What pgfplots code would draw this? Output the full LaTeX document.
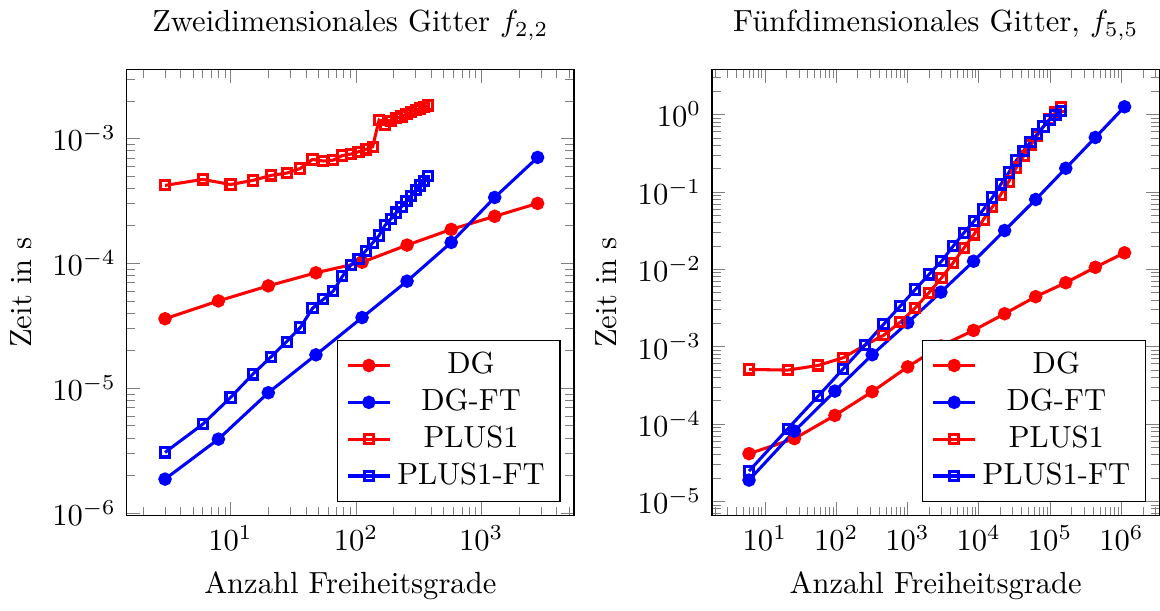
\documentclass[border=0pt]{standalone}
\usepackage{pgfplots}
\pgfplotsset{compat=1.18}
\tikzset{
  sdg/.style={red, line width=1pt, mark=*, mark size=1.7pt, mark options={solid}},
  sdgft/.style={blue, line width=1pt, mark=*, mark size=1.7pt, mark options={solid}},
  spl/.style={red, line width=1pt, mark=square, mark size=1.5pt, mark options={solid}},
  splft/.style={blue, line width=1pt, mark=square, mark size=1.5pt, mark options={solid}},
}
\pgfplotsset{
  every axis/.append style={
    legend image code/.code={\draw[mark repeat=2,mark phase=2] plot coordinates {(0cm,0cm)(0.24cm,0cm)(0.48cm,0cm)};},
    legend style={at={(0.97,0.03)}, anchor=south east, draw=black, fill=white, row sep=-0.5pt},
    legend cell align=center,
  },
}
\begin{document}
\begin{tikzpicture}
\begin{axis}[name=left,
  xmode=log, ymode=log, scale only axis,
  width=146.4pt, height=145.8pt,
  xlabel={Anzahl Freiheitsgrade}, ylabel={Zeit in s},
  xmin=1.48, xmax=5500, ymin=9.6e-7, ymax=3.56e-3,
  title={Zweidimensionales Gitter $f_{2,2}$}]
\addplot[sdg] coordinates {(3,3.6e-5)(8,5.0e-5)(20,6.6e-5)(48,8.4e-5)(112,1.02e-4)(256,1.40e-4)(576,1.87e-4)(1280,2.38e-4)(2816,3.02e-4)};
\addlegendentry{DG}
\addplot[sdgft] coordinates {(3,1.87e-6)(8,3.91e-6)(20,9.2e-6)(48,1.85e-5)(112,3.68e-5)(256,7.2e-5)(576,1.47e-4)(1280,3.37e-4)(2816,7.05e-4)};
\addlegendentry{DG-FT}
\addplot[spl] coordinates {(3,4.21e-4)(6,4.70e-4)(10,4.28e-4)(15,4.61e-4)(21,5.06e-4)(28,5.28e-4)(36,5.75e-4)(45,6.79e-4)(55,6.6e-4)(66,6.7e-4)(78,7.31e-4)(91,7.49e-4)(105,7.83e-4)(120,8.17e-4)(136,8.59e-4)(153,1.40e-3)(171,1.29e-3)(190,1.38e-3)(210,1.45e-3)(231,1.50e-3)(253,1.57e-3)(276,1.63e-3)(300,1.69e-3)(325,1.74e-3)(351,1.79e-3)(378,1.84e-3)};
\addlegendentry{PLUS1}
\addplot[splft] coordinates {(3,3.06e-6)(6,5.15e-6)(10,8.43e-6)(15,1.29e-5)(21,1.78e-5)(28,2.36e-5)(36,3.06e-5)(45,4.36e-5)(55,5.15e-5)(66,6.0e-5)(78,7.87e-5)(91,9.69e-5)(105,1.09e-4)(120,1.26e-4)(136,1.46e-4)(153,1.67e-4)(171,2.02e-4)(190,2.27e-4)(210,2.55e-4)(231,2.84e-4)(253,3.16e-4)(276,3.48e-4)(300,3.84e-4)(325,4.20e-4)(351,4.59e-4)(378,4.99e-4)};
\addlegendentry{PLUS1-FT}
\end{axis}
\begin{axis}[at={(191.5pt,0)},
  xmode=log, ymode=log, scale only axis,
  width=146.4pt, height=145.8pt,
  xlabel={Anzahl Freiheitsgrade}, ylabel={Zeit in s},
  xmin=1.81, xmax=3.41e6, ymin=6.6e-6, ymax=3.81,
  title={Fünfdimensionales Gitter, $f_{5,5}$}]
\addplot[sdg] coordinates {(6,4.13e-5)(26,6.46e-5)(96,1.29e-4)(320,2.61e-4)(1008,5.47e-4)(2944,1.02e-3)(8448,1.62e-3)(23040,2.66e-3)(62800,4.42e-3)(166000,6.7e-3)(431000,1.06e-2)(1107000,1.63e-2)};
\addlegendentry{DG}
\addplot[sdgft] coordinates {(6,1.88e-5)(26,8.09e-5)(96,2.66e-4)(320,7.85e-4)(1008,2.04e-3)(2944,5.06e-3)(8448,1.27e-2)(23040,3.17e-2)(62800,7.98e-2)(166000,0.202)(431000,0.505)(1107000,1.26)};
\addlegendentry{DG-FT}
\addplot[spl] coordinates {(6,5.07e-4)(21,4.97e-4)(56,5.71e-4)(126,7.19e-4)(252,1.04e-3)(462,1.40e-3)(792,2.07e-3)(1287,3.18e-3)(2002,4.97e-3)(3003,7.76e-3)(4368,1.21e-2)(6188,1.88e-2)(8568,2.82e-2)(11628,4.40e-2)(15504,6.38e-2)(20349,9.25e-2)(26334,0.136)(33649,0.207)(42504,0.29)(53130,0.40)(65780,0.53)(80730,0.70)(98280,0.88)(118755,1.06)(142506,1.25)};
\addlegendentry{PLUS1}
\addplot[splft] coordinates {(6,2.46e-5)(21,8.69e-5)(56,2.29e-4)(126,5.18e-4)(252,1.04e-3)(462,1.94e-3)(792,3.34e-3)(1287,5.48e-3)(2002,8.57e-3)(3003,1.27e-2)(4368,1.99e-2)(6188,2.96e-2)(8568,4.18e-2)(11628,5.93e-2)(15504,8.47e-2)(20349,0.125)(26334,0.178)(33649,0.255)(42504,0.34)(53130,0.44)(65780,0.56)(80730,0.70)(98280,0.85)(118755,0.99)(142506,1.12)};
\addlegendentry{PLUS1-FT}
\end{axis}
\end{tikzpicture}
\end{document}
